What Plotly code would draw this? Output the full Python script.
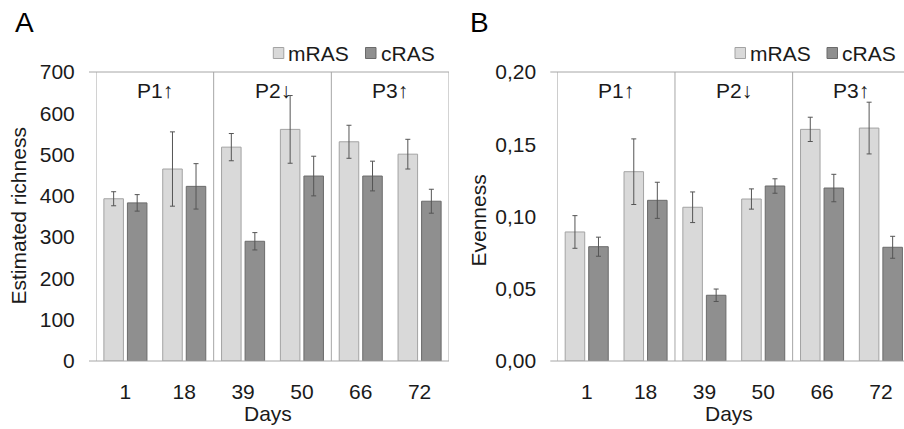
import plotly.graph_objects as go

W, H = 904, 429

days = ["1", "18", "39", "50", "66", "72"]

rich_mras = [393, 465, 518, 561, 531, 501]
rich_mras_err = [17, 90, 33, 82, 40, 36]
rich_cras = [383, 423, 290, 448, 448, 387]
rich_cras_err = [20, 55, 21, 48, 36, 29]

even_mras = [0.0893, 0.1310, 0.1064, 0.1121, 0.1603, 0.1612]
even_mras_err = [0.0113, 0.0227, 0.0106, 0.0070, 0.0084, 0.0179]
even_cras = [0.0791, 0.1112, 0.0455, 0.1211, 0.1197, 0.0787]
even_cras_err = [0.0066, 0.0125, 0.0043, 0.0050, 0.0095, 0.0076]

phase_labels = ["P1\u2191\ufe0e", "P2\u2193\ufe0e", "P3\u2191\ufe0e"]
series_names = ["mRAS", "cRAS"]

FONT = "Liberation Sans, Arial, DejaVu Sans, sans-serif"
TXT = "#1a1a1a"
LINE = "#a6a6a6"
M_FILL, M_EDGE = "#d9d9d9", "#a3a3a3"
C_FILL, C_EDGE = "#8f8f8f", "#6b6b6b"
ERR = "#555555"

fig = go.Figure()

def add_bars(vals, errs, name, fill, edge, xa, ya):
    fig.add_trace(go.Bar(
        x=days, y=vals, name=name, xaxis=xa, yaxis=ya, showlegend=False,
        marker=dict(color=fill, line=dict(color=edge, width=1)),
        error_y=dict(type="data", array=errs, color=ERR, thickness=1, width=2.5),
    ))

add_bars(rich_mras, rich_mras_err, "mRAS", M_FILL, M_EDGE, "x", "y")
add_bars(rich_cras, rich_cras_err, "cRAS", C_FILL, C_EDGE, "x", "y")
add_bars(even_mras, even_mras_err, "mRAS", M_FILL, M_EDGE, "x2", "y2")
add_bars(even_cras, even_cras_err, "cRAS", C_FILL, C_EDGE, "x2", "y2")

ydom = [1 - 361 / H, 1 - 72 / H]
xA = [96 / W, 449 / W]
xB = [557.3 / W, 1.0]
cat_px = (449 - 96) / 6.0
rangeB_end = -0.5 + (W - 557.3) / cat_px

xcommon = dict(type="category", showline=False, showgrid=False, zeroline=False,
               automargin=False,
               ticks="outside", ticklen=12, tickcolor="rgba(0,0,0,0)",
               tickfont=dict(family=FONT, size=21, color=TXT))
ycommon = dict(showline=False, showgrid=False, zeroline=False, automargin=False,
               ticks="outside", ticklen=16, tickcolor="rgba(0,0,0,0)",
               tickfont=dict(family=FONT, size=21, color=TXT), domain=ydom)

fig.update_layout(
    template="none",
    width=W, height=H, autosize=False, margin=dict(l=0, r=0, t=0, b=0, pad=0),
    paper_bgcolor="white", plot_bgcolor="white",
    separators=",.",
    barmode="group", bargap=0.2, bargroupgap=0.17,
    xaxis=dict(domain=xA, range=[-0.5, 5.5], anchor="y", **xcommon),
    yaxis=dict(range=[0, 700], dtick=100, anchor="x", **ycommon),
    xaxis2=dict(domain=xB, range=[-0.5, rangeB_end], anchor="y2", **xcommon),
    yaxis2=dict(range=[0, 0.2], dtick=0.05, tickformat=".2f", anchor="x2", **ycommon),
)

shapes = []
# Panel A frame
for yv in (0, 1):
    shapes.append(dict(type="line", xref="x domain", yref="y domain",
                       x0=-7 / 353, x1=1, y0=yv, y1=yv, line=dict(color=LINE, width=1)))
for xv in (-0.5, 1.5, 3.5, 5.5):
    shapes.append(dict(type="line", xref="x", yref="y domain",
                       x0=xv, x1=xv, y0=0, y1=1, line=dict(color=LINE, width=1)))
# Panel B frame
for yv in (0, 1):
    shapes.append(dict(type="line", xref="x2 domain", yref="y2 domain",
                       x0=-7 / (W - 557.3), x1=1, y0=yv, y1=yv, line=dict(color=LINE, width=1)))
for xv in (-0.5, 1.5, 3.5):
    shapes.append(dict(type="line", xref="x2", yref="y2 domain",
                       x0=xv, x1=xv, y0=0, y1=1, line=dict(color=LINE, width=1)))

annotations = []

def px(x):
    return x / W

def py(y):
    return 1 - y / H

# Manual legends
def legend(sq1, sq2):
    for (x0, name, fill, edge) in ((sq1, series_names[0], M_FILL, M_EDGE),
                                   (sq2, series_names[1], C_FILL, C_EDGE)):
        shapes.append(dict(type="rect", xref="paper", yref="paper",
                           x0=px(x0), x1=px(x0 + 10.5), y0=py(58.5), y1=py(47.5),
                           fillcolor=fill, line=dict(color=edge, width=1)))
        annotations.append(dict(text=name, xref="paper", yref="paper",
                                x=px(x0 + 13), y=py(53), xanchor="left", yanchor="middle",
                                showarrow=False, font=dict(family=FONT, size=21, color=TXT)))

legend(273.3, 365.5)
legend(735.0, 827.0)

# Phase labels
for i, lab in enumerate(phase_labels):
    for xa, ya in (("x", "y"), ("x2", "y2")):
        annotations.append(dict(text=lab, xref=xa, yref="paper", x=0.5 + 2 * i, y=py(90),
                                xanchor="center", yanchor="middle", showarrow=False,
                                font=dict(family=FONT, size=21, color=TXT)))

# Axis titles
annotations += [
    dict(text="Estimated richness", xref="paper", yref="paper", x=px(17.5), y=py(216),
         textangle=-90, showarrow=False, xanchor="center", yanchor="middle",
         font=dict(family=FONT, size=21, color=TXT)),
    dict(text="Evenness", xref="paper", yref="paper", x=px(477.5), y=py(221),
         textangle=-90, showarrow=False, xanchor="center", yanchor="middle",
         font=dict(family=FONT, size=21, color=TXT)),
    dict(text="Days", xref="paper", yref="paper", x=px(268), y=py(413),
         showarrow=False, xanchor="center", yanchor="middle",
         font=dict(family=FONT, size=21, color=TXT)),
    dict(text="Days", xref="paper", yref="paper", x=px(729), y=py(413),
         showarrow=False, xanchor="center", yanchor="middle",
         font=dict(family=FONT, size=21, color=TXT)),
    dict(text="A", xref="paper", yref="paper", x=px(24.5), y=py(22),
         showarrow=False, xanchor="center", yanchor="middle",
         font=dict(family=FONT, size=28, color="#000000")),
    dict(text="B", xref="paper", yref="paper", x=px(479.5), y=py(22.5),
         showarrow=False, xanchor="center", yanchor="middle",
         font=dict(family=FONT, size=28, color="#000000")),
]

fig.update_layout(shapes=shapes, annotations=annotations)
fig.write_html(
    "out.html",
    config={"responsive": False, "displayModeBar": False},
    post_script="document.body.style.margin='0';document.body.style.overflow='hidden';",
)
